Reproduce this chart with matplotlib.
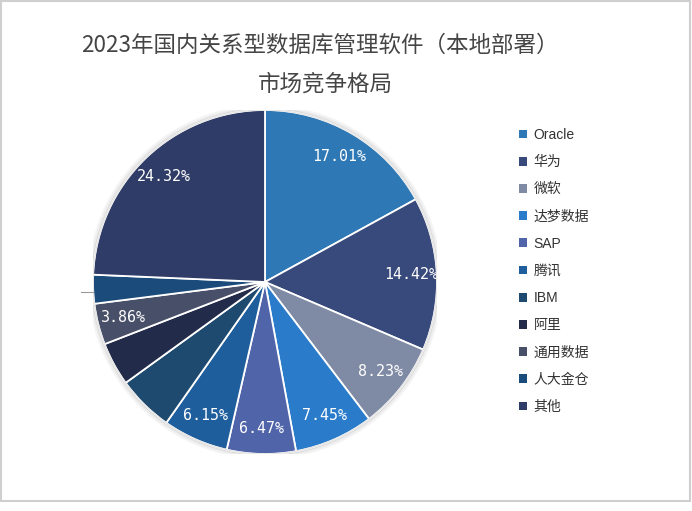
import matplotlib
matplotlib.use("Agg")
import matplotlib.pyplot as plt
import numpy as np
from matplotlib.patches import Circle, Rectangle
from matplotlib.lines import Line2D

plt.rcParams['font.family'] = ['Noto Sans CJK SC', 'DejaVu Sans']

categories = ['Oracle', '华为', '微软', '达梦数据', 'SAP', '腾讯', 'IBM', '阿里', '通用数据', '人大金仓', '其他']
shares = [17.01, 14.42, 8.23, 7.45, 6.47, 6.15, 5.30, 4.09, 3.86, 2.70, 24.32]
labeled = ['Oracle', '华为', '微软', '达梦数据', 'SAP', '腾讯', '通用数据', '其他']
colors = ['#2E79B5', '#384A7B', '#7F8AA5', '#2A7CCB', '#5064AA', '#1F5E9D',
          '#1D4A6E', '#222B4A', '#484F69', '#1B4B7A', '#2F3C67']
title_lines = ['2023年国内关系型数据库管理软件（本地部署）', '市场竞争格局']

W, H = 692, 511
fig = plt.figure(figsize=(W / 100, H / 100), dpi=100)
fig.patch.set_facecolor('white')

# frame
fig.patches.append(Rectangle((1.5 / W, (H - 501) / H), (W - 3.5) / W, 499.5 / H,
                             transform=fig.transFigure, fill=False, ec='#cfcfcf', lw=1.5))
# small stray tick at left
fig.lines.append(Line2D([81 / W, 93 / W], [(H - 292) / H] * 2, transform=fig.transFigure,
                        color='#9a9a9a', lw=0.8))

cx, cy, r = 265, 282, 172
ax = fig.add_axes([(cx - r) / W, (H - cy - r) / H, 2 * r / W, 2 * r / H])
ax.set_aspect('equal')

# soft shadow ring
for rr, a in [(1.025, 0.10), (1.015, 0.18), (1.006, 0.35)]:
    ax.add_patch(Circle((0, 0), rr, fill=False, ec='#9a9a9a', lw=1.2, alpha=a, zorder=0))

wedges, _ = ax.pie(shares, colors=colors, startangle=90, counterclock=False,
                   wedgeprops=dict(edgecolor='white', linewidth=1.3))
ax.add_patch(Circle((0, 0), 1.0, fill=False, ec='#e6e6e6', lw=1.0, zorder=5))

for w, name, v in zip(wedges, categories, shares):
    if name not in labeled:
        continue
    mid = np.deg2rad((w.theta1 + w.theta2) / 2)
    d = 0.85
    ax.text(d * np.cos(mid), d * np.sin(mid), f'{v:.2f}%', color='white',
            ha='center', va='center', fontsize=10.8, family='DejaVu Sans Mono')

ax.set_xlim(-1, 1)
ax.set_ylim(-1, 1)
ax.axis('off')

fig.text(320 / W, 1 - 45 / H, title_lines[0], ha='center', va='center',
         fontsize=16.2, color='#454545')
fig.text(325 / W, 1 - 84 / H, title_lines[1], ha='center', va='center',
         fontsize=16.2, color='#454545')

leg = fig.legend(wedges, categories, loc='upper left',
                 bbox_to_anchor=(512 / W, 1 - 121 / H), frameon=False,
                 prop=dict(family=['Liberation Sans', 'Noto Sans CJK SC'], size=10),
                 handlelength=0.6, handleheight=0.6,
                 handletextpad=0.45, labelspacing=0.95, borderpad=0)
for t in leg.get_texts():
    t.set_color('#333333')
for h in leg.legend_handles:
    h.set_edgecolor('none')

fig.savefig('out.png', dpi=100, facecolor='white')
